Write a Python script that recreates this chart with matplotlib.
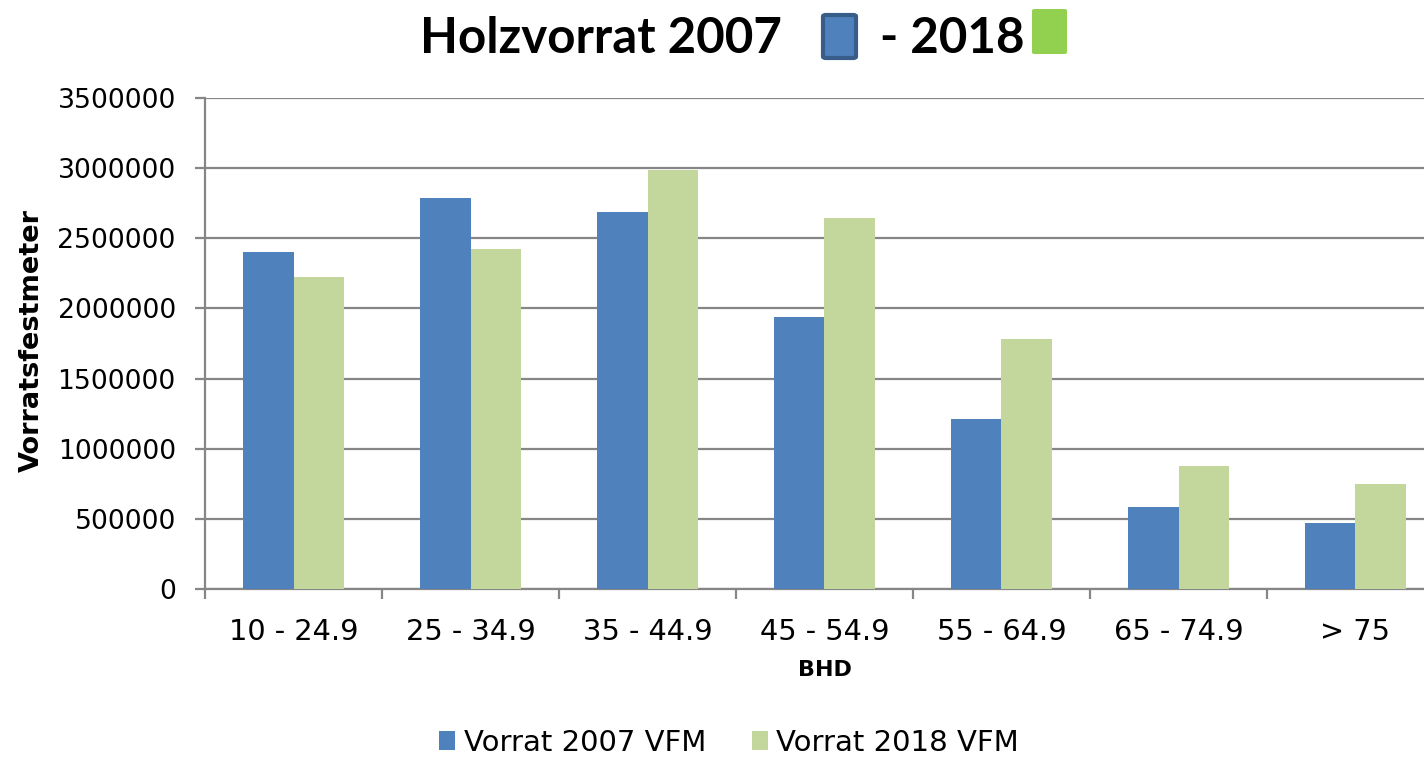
import matplotlib
matplotlib.use("Agg")
import matplotlib.pyplot as plt
from matplotlib.patches import FancyBboxPatch
import numpy as np

# data
categories = ["10 - 24.9", "25 - 34.9", "35 - 44.9", "45 - 54.9",
              "55 - 64.9", "65 - 74.9", "> 75"]
vorrat_2007 = [2400000, 2789000, 2690000, 1937000, 1210000, 587000, 473000]
vorrat_2018 = [2226000, 2424000, 2987000, 2642000, 1780000, 877000, 746000]

blue = "#4F81BD"
green = "#C3D69B"
grid_col = "#868686"

plt.rcParams['font.family'] = ['DejaVu Sans']

fig = plt.figure(figsize=(14.24, 7.58), dpi=100)
ax = fig.add_axes([205 / 1424, 169 / 758, 1239 / 1424, 491 / 758])

x = np.arange(len(categories))
w = 0.283
ax.bar(x - w / 2, vorrat_2007, w, color=blue, label="Vorrat 2007 VFM", zorder=3)
ax.bar(x + w / 2, vorrat_2018, w, color=green, label="Vorrat 2018 VFM", zorder=3)

ax.set_xlim(-0.5, len(categories) - 0.5)
ax.set_ylim(0, 3500000)
ax.set_yticks(np.arange(0, 3500001, 500000))
ax.set_yticklabels([str(v) for v in range(0, 3500001, 500000)], fontsize=19.2)
ax.yaxis.grid(True, color=grid_col, lw=1.6, zorder=0)
ax.set_axisbelow(True)

ax.set_xticks(x)
ax.set_xticklabels(categories, fontsize=20.8)
ax.set_xticks(np.arange(-0.5, len(categories)), minor=True)
ax.tick_params(axis="x", which="major", length=0, pad=21)
ax.tick_params(axis="x", which="minor", length=7, width=1.6, color=grid_col)
ax.tick_params(axis="y", length=7, width=1.6, color=grid_col, pad=14)

for s in ["top", "right"]:
    ax.spines[s].set_visible(False)
for s in ["left", "bottom"]:
    ax.spines[s].set_color(grid_col)
    ax.spines[s].set_linewidth(1.6)

ax.set_xlabel("BHD", fontsize=16, fontweight="bold", labelpad=10)
ax.set_ylabel("Vorratsfestmeter", fontsize=19.5, fontweight="bold")
ax.yaxis.set_label_coords(-0.129, 0.507)

leg = fig.legend(loc="center", bbox_to_anchor=(0.512, 0.02), ncol=2,
                 frameon=False, fontsize=21, handlelength=0.55, handleheight=0.6,
                 handletextpad=0.3, columnspacing=1.55)

# title with coloured boxes
title_kw = dict(fontsize=35.5, fontweight="bold", family=["Lato", "DejaVu Sans"],
                va="baseline", ha="left")
fig.text(420 / 1424, 1 - 53 / 758, "Holzvorrat 2007", **title_kw)
fig.text(880 / 1424, 1 - 53 / 758, "- 2018", **title_kw)
fig.patches.append(FancyBboxPatch((823 / 1424, 1 - 58 / 758), 33 / 1424, 43 / 758,
                                  boxstyle="round,pad=0,rounding_size=0.002",
                                  transform=fig.transFigure, facecolor=blue,
                                  edgecolor="#385D8A", lw=3))
fig.patches.append(FancyBboxPatch((1032 / 1424, 1 - 54 / 758), 35 / 1424, 45 / 758,
                                  boxstyle="round,pad=0,rounding_size=0.002",
                                  transform=fig.transFigure, facecolor="#92D050",
                                  edgecolor="none"))

fig.savefig("out.png", dpi=100)
